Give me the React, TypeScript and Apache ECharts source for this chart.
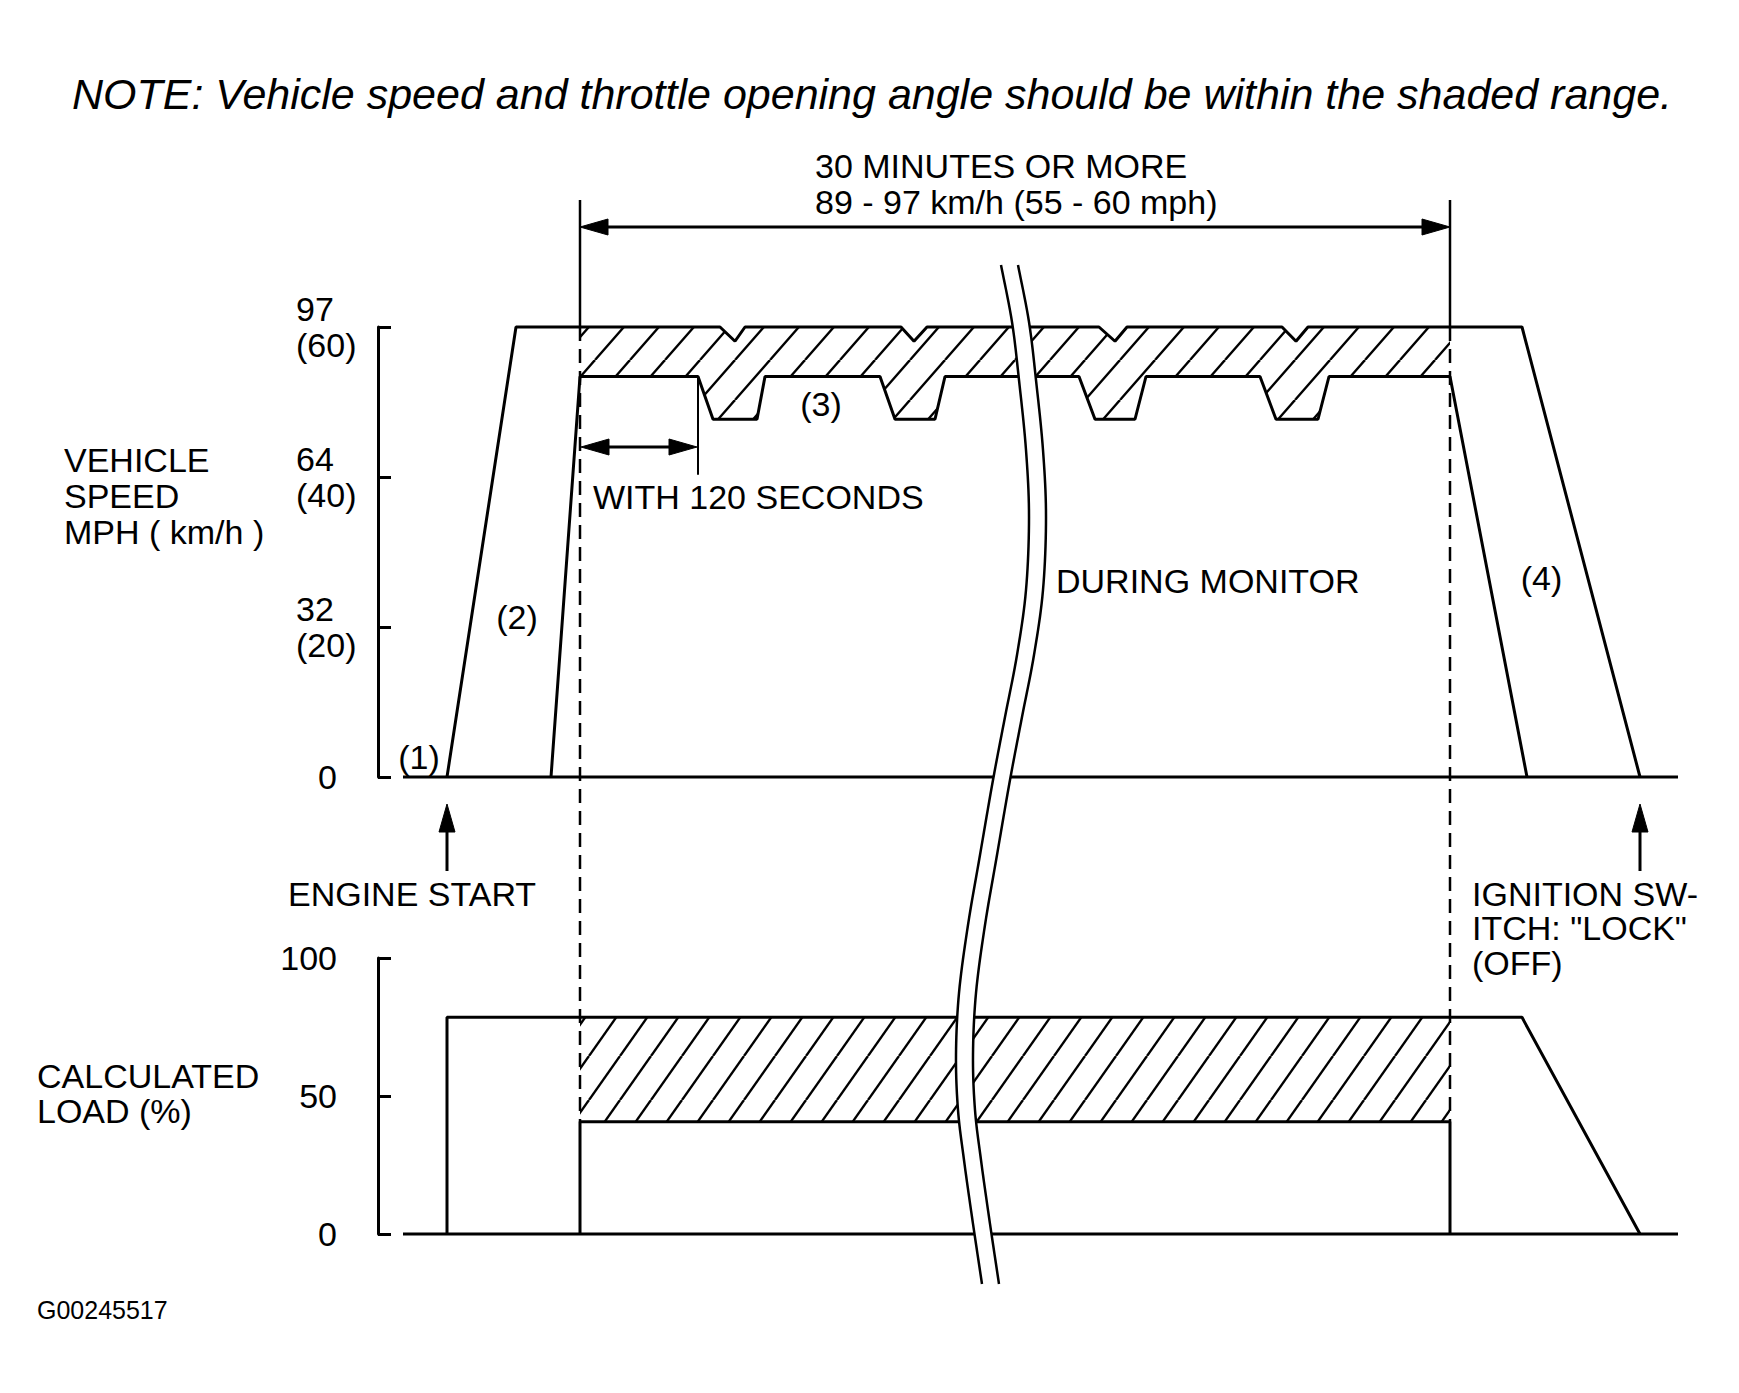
import React, { useEffect, useRef } from "react";
import * as echarts from "echarts";

const FONT = "'Liberation Sans', Arial, Helvetica, sans-serif";

// ---- axis ticks / labels ----
const speedTicks = [0, 20, 40, 60]; // mph
const speedTickLabels = ["0", "32\n(20)", "64\n(40)", "97\n(60)"];
const loadTicks = [0, 50, 100];
const loadTickLabels = ["0", "50", "100"];

// ---- data (x: elapsed time, arbitrary units; y: mph or %) ----
const baselineX = [2.5, 130];
const baselineY = [0, 0];

const speedOuterX = [6.9, 13.8, 34.2, 35.7, 36.7, 52.3, 53.6, 54.9, 72.1, 73.7, 74.9, 90.4, 91.8, 93.0, 114.4, 126.2];
const speedOuterY = [0, 60, 60, 58.1, 60, 60, 58.1, 60, 60, 58.1, 60, 60, 58.1, 60, 60, 0];

const speedInnerX = [17.3, 20.2, 32.0, 33.5, 37.9, 38.7, 50.2, 51.7, 55.7, 56.7, 70.1, 71.7, 75.7, 76.8, 88.2, 89.8, 94.0, 95.1, 107.2, 114.9];
const speedInnerY = [0, 53.4, 53.4, 47.7, 47.7, 53.4, 53.4, 47.7, 47.7, 53.4, 53.4, 47.7, 47.7, 53.4, 53.4, 47.7, 47.7, 53.4, 53.4, 0];

const monitorStart = 20.2;
const monitorEnd = 107.2;
const within120End = 32.0;

const loadOuterX = [6.9, 6.9, 114.4, 126.2];
const loadOuterY = [0, 78.5, 78.5, 0];
const loadInnerX = [20.2, 20.2, 107.2, 107.2];
const loadInnerY = [0, 40.7, 40.7, 0];
const loadBandTop = 78.5;
const loadBandBottom = 40.7;

// break mark (decoration, page pixels) – control points of the S-shaped cut
const breakCurve = [
  [1001, 265], [1012, 322], [1019, 380], [1026, 450], [1029, 517], [1026, 590], [1017, 655],
  [1005, 717], [993, 780], [980, 855], [968, 925], [959, 993], [956, 1055], [958, 1110],
  [964, 1160], [972, 1217], [982, 1284],
];

// Catmull-Rom resampling for a smooth decorative curve
function smoothCurve(pts: number[][], steps = 10) {
  const out: number[][] = [];
  for (let i = 0; i < pts.length - 1; i++) {
    const p0 = pts[Math.max(0, i - 1)];
    const p1 = pts[i];
    const p2 = pts[i + 1];
    const p3 = pts[Math.min(pts.length - 1, i + 2)];
    for (let s = 0; s < steps; s++) {
      const t = s / steps, t2 = t * t, t3 = t2 * t;
      const f = (a: number, b: number, c: number, d: number) =>
        0.5 * (2 * b + (-a + c) * t + (2 * a - 5 * b + 4 * c - d) * t2 + (-a + 3 * b - 3 * c + d) * t3);
      out.push([f(p0[0], p1[0], p2[0], p3[0]), f(p0[1], p1[1], p2[1], p3[1])]);
    }
  }
  out.push(pts[pts.length - 1]);
  return out;
}

function makeHatch(w: number, h: number, lw: number) {
  const c = document.createElement("canvas");
  c.width = w;
  c.height = h;
  const ctx = c.getContext("2d")!;
  ctx.strokeStyle = "#000";
  ctx.lineWidth = lw;
  for (const dx of [-w, 0, w]) {
    ctx.beginPath();
    ctx.moveTo(dx, h);
    ctx.lineTo(dx + w, 0);
    ctx.stroke();
  }
  return { image: c, repeat: "repeat", imageWidth: w, imageHeight: h } as any;
}

function pairs(xs: number[], ys: number[]) {
  return xs.map((x, i) => [x, ys[i]]);
}

function speedBand() {
  const top: number[][] = [[monitorStart, 60]];
  pairs(speedOuterX, speedOuterY).forEach((p) => {
    if (p[0] > monitorStart && p[0] < monitorEnd) top.push(p);
  });
  top.push([monitorEnd, 60]);
  const bottom = pairs(speedInnerX, speedInnerY).filter((p) => p[0] >= monitorStart && p[0] <= monitorEnd);
  return top.concat(bottom.reverse());
}

function loadBand() {
  return [
    [monitorStart, loadBandBottom],
    [monitorStart, loadBandTop],
    [monitorEnd, loadBandTop],
    [monitorEnd, loadBandBottom],
  ];
}

function lineSeries(xs: number[], ys: number[], gi: number) {
  return {
    type: "line",
    xAxisIndex: gi,
    yAxisIndex: gi,
    data: pairs(xs, ys),
    symbol: "none",
    lineStyle: { color: "#000", width: 3 },
    silent: true,
    clip: false,
    z: 5,
  };
}

function bandSeries(points: number[][], gi: number, pattern: any) {
  return {
    type: "custom",
    xAxisIndex: gi,
    yAxisIndex: gi,
    data: [[points[0][0], points[0][1]]],
    silent: true,
    clip: false,
    z: 3,
    renderItem: (params: any, api: any) => ({
      type: "polygon",
      shape: { points: points.map((p) => api.coord(p)) },
      style: { fill: pattern, stroke: null },
    }),
  };
}

function buildOption() {
  const hatchTop = makeHatch(35, 40, 2.4);
  const hatchBottom = makeHatch(31, 44, 2.4);
  const labelBase = { color: "#000", fontFamily: FONT, fontSize: 34 };
  return {
    animation: false,
    backgroundColor: "#fff",
    grid: [
      { left: 378, top: 327, width: 1300, height: 450 },
      { left: 378, top: 958, width: 1300, height: 276 },
    ],
    xAxis: [
      { gridIndex: 0, type: "value", min: 0, max: 130, show: false },
      { gridIndex: 1, type: "value", min: 0, max: 130, show: false },
    ],
    yAxis: [
      {
        gridIndex: 0,
        type: "value",
        min: 0,
        max: 60,
        interval: 20,
        axisLine: { show: true, lineStyle: { color: "#000", width: 3 } },
        axisTick: { show: true, inside: true, length: 13, lineStyle: { color: "#000", width: 3 } },
        splitLine: { show: false },
        axisLabel: {
          ...labelBase,
          lineHeight: 36,
          align: "left",
          margin: 82,
          formatter: (v: number) => {
            const i = speedTicks.indexOf(v);
            if (i < 0) return "";
            return v === 0 ? "{z|" + speedTickLabels[i] + "}" : speedTickLabels[i];
          },
          rich: { z: { ...labelBase, padding: [0, 0, 0, 22] } },
        },
      },
      {
        gridIndex: 1,
        type: "value",
        min: 0,
        max: 100,
        interval: 50,
        axisLine: { show: true, lineStyle: { color: "#000", width: 3 } },
        axisTick: { show: true, inside: true, length: 13, lineStyle: { color: "#000", width: 3 } },
        splitLine: { show: false },
        axisLabel: {
          ...labelBase,
          margin: 41,
          formatter: (v: number) => {
            const i = loadTicks.indexOf(v);
            return i < 0 ? "" : loadTickLabels[i];
          },
        },
      },
    ],
    series: [
      bandSeries(speedBand(), 0, hatchTop),
      bandSeries(loadBand(), 1, hatchBottom),
      lineSeries(baselineX, baselineY, 0),
      lineSeries(speedOuterX, speedOuterY, 0),
      lineSeries(speedInnerX, speedInnerY, 0),
      lineSeries(baselineX, baselineY, 1),
      lineSeries(loadOuterX, loadOuterY, 1),
      lineSeries(loadInnerX, loadInnerY, 1),
    ],
  };
}

function text(t: string, x: number, y: number, opts: any = {}) {
  const align = opts.align || "left";
  return {
    type: "text",
    x,
    y,
    z: 70,
    silent: true,
    style: {
      text: t,
      fill: "#000",
      fontFamily: FONT,
      fontSize: 34,
      lineHeight: opts.lineHeight || 36,
      fontStyle: opts.fontStyle || "normal",
      align,
      textAlign: align,
      verticalAlign: "middle",
      textVerticalAlign: "middle",
      ...(opts.fontSize ? { fontSize: opts.fontSize } : {}),
    },
  };
}

function seg(x1: number, y1: number, x2: number, y2: number, w = 3, dash?: number[]) {
  return {
    type: "line",
    z: 40,
    silent: true,
    shape: { x1, y1, x2, y2 },
    style: { stroke: "#000", lineWidth: w, lineDash: dash || null, fill: null },
  };
}

function head(tipX: number, tipY: number, dx: number, dy: number) {
  const L = 28, H = 8;
  const bx = tipX - dx * L, by = tipY - dy * L;
  const px = -dy * H, py = dx * H;
  return {
    type: "polygon",
    z: 41,
    silent: true,
    shape: { points: [[tipX, tipY], [bx + px, by + py], [bx - px, by - py]] },
    style: { fill: "#000", stroke: "#000", lineWidth: 1 },
  };
}

function buildGraphic(chart: any) {
  const p0 = (x: number, y: number) => chart.convertToPixel({ gridIndex: 0 }, [x, y]);
  const p1 = (x: number, y: number) => chart.convertToPixel({ gridIndex: 1 }, [x, y]);
  const g: any[] = [];

  const [xL, yTop] = p0(monitorStart, 60);
  const [xR] = p0(monitorEnd, 60);
  const yDashEnd = p1(monitorStart, loadBandBottom)[1];

  g.push(seg(xL, 200, xL, yTop, 2.5));
  g.push(seg(xR, 200, xR, yTop, 2.5));
  g.push(seg(xL, yTop, xL, yDashEnd, 2.5, [14, 8]));
  g.push(seg(xR, yTop, xR, yDashEnd, 2.5, [14, 8]));
  g.push(seg(xL + 20, 227, xR - 20, 227, 3));
  g.push(head(xL, 227, -1, 0));
  g.push(head(xR, 227, 1, 0));

  const [xW] = p0(within120End, 0);
  const yW = p0(0, 44)[1];
  g.push(seg(xW, p0(0, 53.4)[1], xW, p0(0, 40.3)[1], 2));
  g.push(seg(xL + 20, yW, xW - 20, yW, 3));
  g.push(head(xL + 1, yW, -1, 0));
  g.push(head(xW - 1, yW, 1, 0));

  const [xE, y0] = p0(speedOuterX[0], 0);
  const [xI] = p0(speedOuterX[speedOuterX.length - 1], 0);
  for (const x of [xE, xI]) {
    g.push(seg(x, y0 + 50, x, y0 + 94, 3));
    g.push(head(x, y0 + 27, 0, -1));
  }

  g.push(text("NOTE: Vehicle speed and throttle opening angle should be within the shaded range.", 872, 94, { align: "center", fontSize: 43, fontStyle: "italic" }));
  g.push(text("30 MINUTES OR MORE", 815, 166));
  g.push(text("89 - 97 km/h (55 - 60 mph)", 815, 202));
  g.push(text("VEHICLE\nSPEED\nMPH ( km/h )", 64, 496, { lineHeight: 36 }));
  g.push(text("CALCULATED\nLOAD (%)", 37, 1093, { lineHeight: 35 }));
  g.push(text("ENGINE START", 288, 894));
  g.push(text('IGNITION SW-\nITCH: "LOCK"\n(OFF)', 1472, 928, { lineHeight: 34.5 }));
  g.push(text("G00245517", 37, 1310, { fontSize: 25 }));

  const t1 = p0(4.1, 2.7);
  const t2 = p0(13.9, 21.3);
  const t3 = p0(44.3, 49.7);
  const t4 = p0(116.35, 26.5);
  g.push(text("(1)", t1[0], t1[1], { align: "center" }));
  g.push(text("(2)", t2[0], t2[1], { align: "center" }));
  g.push(text("(3)", t3[0], t3[1], { align: "center" }));
  g.push(text("(4)", t4[0], t4[1], { align: "center" }));
  const tw = p0(21.5, 37.4);
  g.push(text("WITH 120 SECONDS", tw[0], tw[1]));
  const td = p0(67.8, 26.1);
  g.push(text("DURING MONITOR", td[0], td[1]));

  const c1 = smoothCurve(breakCurve);
  const c2 = c1.map(([x, y]) => [x + 17, y]);
  g.push({
    type: "polygon",
    z: 60,
    silent: true,
    shape: { points: c1.concat(c2.slice().reverse()) },
    style: { fill: "#fff", stroke: null },
  });
  for (const c of [c1, c2]) {
    g.push({
      type: "polyline",
      z: 61,
      silent: true,
      shape: { points: c },
      style: { stroke: "#000", lineWidth: 2.5, fill: null, lineJoin: "round" },
    });
  }
  return g;
}

export default function App() {
  const ref = useRef<HTMLDivElement>(null);
  useEffect(() => {
    const chart = echarts.init(ref.current!, null, { renderer: "svg" });
    chart.setOption(buildOption() as any);
    chart.setOption({ graphic: buildGraphic(chart) } as any);
    return () => chart.dispose();
  }, []);
  return (
    <div
      ref={ref}
      style={{ position: "absolute", left: 0, top: 0, width: 1739, height: 1393, background: "#fff" }}
    />
  );
}
